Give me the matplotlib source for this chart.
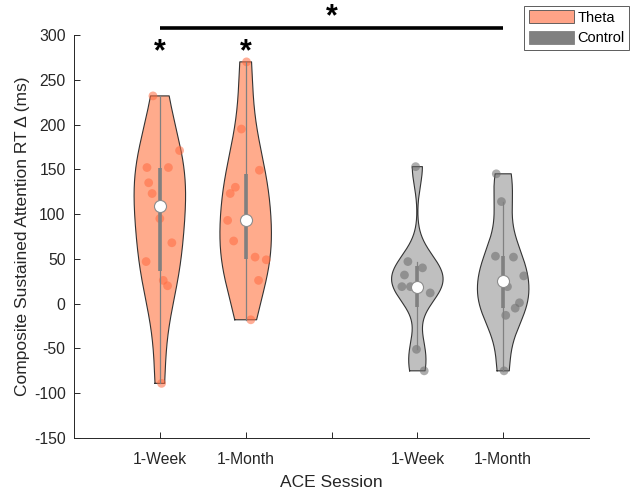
import numpy as np
import matplotlib
matplotlib.use("Agg")
import matplotlib.pyplot as plt
from matplotlib.patches import Patch

plt.rcParams['font.family'] = ['Liberation Sans', 'DejaVu Sans']
plt.rcParams['axes.unicode_minus'] = False

# ---------------- data ----------------
tick_labels = ['1-Week', '1-Month', '', '1-Week', '1-Month']
groups = ['Theta', 'Theta', 'Control', 'Control']
theta_week = [232, 171, 152, 152, 135, 123, 95, 68, 47, 26, 20, -89]
theta_week_jit = [-0.08, 0.23, -0.15, 0.10, -0.13, -0.09, 0.0, 0.14, -0.16, 0.04, 0.09, 0.02]
theta_month = [270, 195, 149, 130, 123, 93, 70, 52, 49, 26, -18]
theta_month_jit = [0.01, -0.05, 0.16, -0.12, -0.18, -0.21, -0.14, 0.11, 0.24, 0.15, 0.06]
control_week = [153, 47, 40, 32, 19, 19, 12, -51, -75]
control_week_jit = [-0.02, -0.11, 0.06, -0.15, -0.18, -0.08, 0.15, -0.01, 0.08]
control_month = [145, 114, 53, 52, 31, 19, 1, -5, -13, -75]
control_month_jit = [-0.08, -0.02, -0.09, 0.12, 0.24, 0.05, 0.19, 0.14, 0.03, 0.01]
positions = [1, 2, 4, 5]
series = [theta_week, theta_month, control_week, control_month]
jitters = [theta_week_jit, theta_month_jit, control_week_jit, control_month_jit]

# ---------------- styles ----------------
face = {'Theta': (1.0, 0.67, 0.55), 'Control': (0.75, 0.75, 0.75)}
pts = {'Theta': (1.0, 0.42, 0.25), 'Control': (0.42, 0.42, 0.42)}
legend_col = {'Theta': (1.0, 0.64, 0.53), 'Control': (0.5, 0.5, 0.5)}
VW = 0.3
TXT = (0.15, 0.15, 0.15)


def mquantile(x, p):
    x = np.sort(np.asarray(x, float))
    n = len(x)
    pos = n * p + 0.5
    if pos <= 1:
        return x[0]
    if pos >= n:
        return x[-1]
    lo = int(np.floor(pos))
    f = pos - lo
    return x[lo - 1] + f * (x[lo] - x[lo - 1])


def kde(x, grid):
    x = np.asarray(x, float)
    n = len(x)
    sig = np.median(np.abs(x - np.median(x))) / 0.6745
    if sig <= 0:
        sig = x.max() - x.min()
    bw = sig * (4.0 / (3.0 * n)) ** 0.2
    d = np.exp(-0.5 * ((grid[:, None] - x[None, :]) / bw) ** 2).sum(axis=1)
    return d / (n * bw * np.sqrt(2 * np.pi))


fig = plt.figure(figsize=(6.3, 4.91), dpi=100)
ax = fig.add_axes([74 / 630, 53 / 491, (589 - 74) / 630, (438 - 35) / 491])

for pos, data, jit, g in zip(positions, series, jitters, groups):
    data = np.asarray(data, float)
    grid = np.linspace(data.min(), data.max(), 300)
    dens = kde(data, grid)
    w = dens / dens.max() * VW
    xs = np.concatenate([pos - w, (pos + w)[::-1], [pos - w[0]]])
    ys = np.concatenate([grid, grid[::-1], [grid[0]]])
    ax.fill(xs, ys, facecolor=face[g], edgecolor='none', zorder=1)
    ax.plot(xs, ys, color=(0.2, 0.2, 0.2), lw=0.8, zorder=2)
    ax.scatter(pos + np.asarray(jit), data, s=40, color=pts[g], alpha=0.55,
               edgecolors='none', zorder=3)
    q1, q3 = mquantile(data, 0.25), mquantile(data, 0.75)
    iqr = q3 - q1
    lo = q1 - 1.5 * iqr
    lo = max(lo, data[data > lo].min())
    hi = q3 + 1.5 * iqr
    hi = min(hi, data[data < hi].max())
    ax.plot([pos, pos], [lo, hi], color=(0.5, 0.5, 0.5), lw=0.9, zorder=4)
    ax.plot([pos, pos], [q1, q3], color=(0.5, 0.5, 0.5), lw=2.6, zorder=5,
            solid_capstyle='butt')
    ax.scatter([pos], [np.median(data)], s=75, facecolor='white',
               edgecolor=(0.55, 0.55, 0.55), lw=0.8, zorder=6)

# significance
ax.plot([positions[0], positions[-1]], [308, 308], color='black', lw=2.6,
        clip_on=False, solid_capstyle='butt', zorder=7)
star_kw = dict(ha='center', va='center', fontsize=22, fontweight='bold', clip_on=False)
ax.text(3, 320, '*', **star_kw)
ax.text(positions[0], 281, '*', **star_kw)
ax.text(positions[1], 281, '*', **star_kw)

ax.set_xlim(0, 6)
ax.set_ylim(-150, 300)
ax.set_xticks([1, 2, 3, 4, 5])
ax.set_xticklabels(tick_labels)
ax.set_yticks(np.arange(-150, 301, 50))
for s in ['top', 'right']:
    ax.spines[s].set_visible(False)
for s in ['left', 'bottom']:
    ax.spines[s].set_color(TXT)
    ax.spines[s].set_linewidth(0.7)
ax.tick_params(direction='in', length=4, width=0.7, colors=TXT,
               labelsize=11.3, labelcolor=TXT)
ax.tick_params(axis='x', pad=10)
ax.tick_params(axis='y', pad=6)
ax.set_xlabel('ACE Session', fontsize=12.5, color=TXT, labelpad=6)
ax.set_ylabel('Composite Sustained Attention RT Δ (ms)', fontsize=12.5,
              color=TXT, labelpad=3)

handles = [Patch(facecolor=legend_col['Theta'], edgecolor=(0.3, 0.3, 0.3), lw=0.6, label='Theta'),
           Patch(facecolor=legend_col['Control'], edgecolor=(0.5, 0.5, 0.5), lw=0.6, label='Control')]
leg = fig.legend(handles=handles, loc='upper right', bbox_to_anchor=(629 / 630, 1 - 6 / 491),
                 fontsize=10.5, frameon=True, fancybox=False, handlelength=3.1,
                 handleheight=1.0, borderpad=0.3, labelspacing=0.4, handletextpad=0.25,
                 borderaxespad=0)
leg.get_frame().set_edgecolor((0.2, 0.2, 0.2))
leg.get_frame().set_linewidth(0.7)

fig.savefig('out.png', dpi=100)
